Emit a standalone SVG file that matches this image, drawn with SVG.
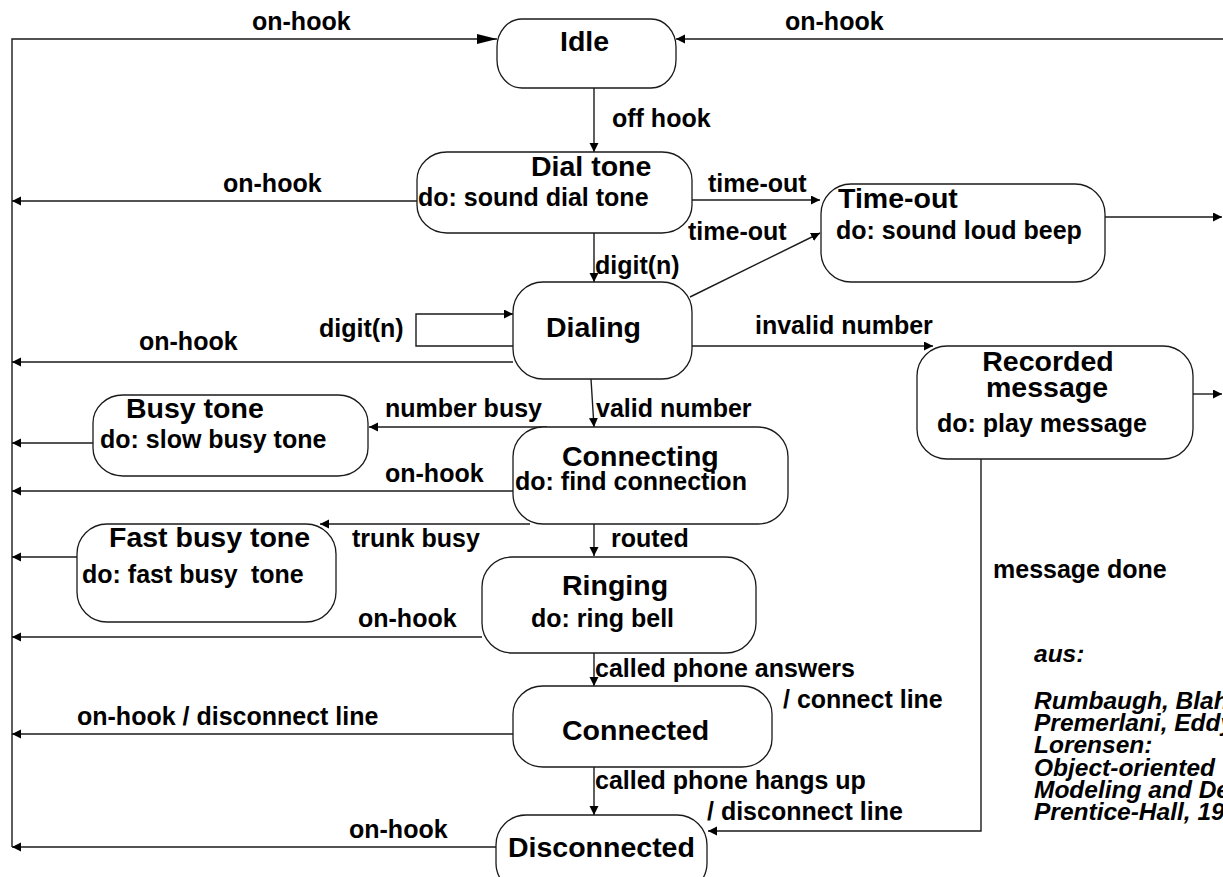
<svg xmlns="http://www.w3.org/2000/svg" width="1223" height="877" viewBox="0 0 1223 877">
<style>
  .bg { fill: #ffffff; }
  .conn { fill: none; stroke: #1a1a1a; stroke-width: 1.4; }
  .node rect { fill: #ffffff; stroke: #1a1a1a; stroke-width: 1.3; }
  text { font-family: "Liberation Sans", Arial, sans-serif; font-weight: bold; fill: #000000; }
  .lbl { font-size: 25px; }
  .title { font-size: 28.5px; }
  .cite { font-size: 24.5px; font-style: italic; }
</style>
<defs>
  <marker id="arr" markerUnits="userSpaceOnUse" markerWidth="10" markerHeight="10" refX="9" refY="4.5" orient="auto">
    <path d="M0,0 L9,4.5 L0,9 z" fill="#000"/>
  </marker>
  <marker id="arrBig" markerUnits="userSpaceOnUse" markerWidth="21" markerHeight="11" refX="20" refY="5" orient="auto">
    <path d="M0,0 L20,5 L0,10 z" fill="#000"/>
  </marker>
</defs>
<rect class="bg" x="0" y="0" width="1223" height="877"/>

<g id="connectors">
  <path class="conn" d="M12,847 V39 H497" marker-end="url(#arrBig)"/>
  <path class="conn" d="M1223,39 H676" marker-end="url(#arr)"/>
  <path class="conn" d="M594,88 V152" marker-end="url(#arr)"/>
  <path class="conn" d="M417,201 H12" marker-end="url(#arr)"/>
  <path class="conn" d="M692,200 H820" marker-end="url(#arr)"/>
  <path class="conn" d="M690,297 L820,233" marker-end="url(#arr)"/>
  <path class="conn" d="M594,233 V282" marker-end="url(#arr)"/>
  <path class="conn" d="M513,346 H416 V314 H513" marker-end="url(#arr)"/>
  <path class="conn" d="M513,362 H12" marker-end="url(#arr)"/>
  <path class="conn" d="M692,346 H933" marker-end="url(#arr)"/>
  <path class="conn" d="M1105,217 H1222" marker-end="url(#arr)"/>
  <path class="conn" d="M1193,394 H1222" marker-end="url(#arr)"/>
  <path class="conn" d="M591,379 L594,427" marker-end="url(#arr)"/>
  <path class="conn" d="M547,427 H369" marker-end="url(#arr)"/>
  <path class="conn" d="M93,443 H12" marker-end="url(#arr)"/>
  <path class="conn" d="M513,491 H12" marker-end="url(#arr)"/>
  <path class="conn" d="M530,524 H320" marker-end="url(#arr)"/>
  <path class="conn" d="M77,557 H12" marker-end="url(#arr)"/>
  <path class="conn" d="M594,524 V556" marker-end="url(#arr)"/>
  <path class="conn" d="M482,637 H12" marker-end="url(#arr)"/>
  <path class="conn" d="M594,653 V686" marker-end="url(#arr)"/>
  <path class="conn" d="M513,734 H12" marker-end="url(#arr)"/>
  <path class="conn" d="M594,767 V815" marker-end="url(#arr)"/>
  <path class="conn" d="M496,847 H12" marker-end="url(#arr)"/>
  <path class="conn" d="M981,459 V831 H708" marker-end="url(#arr)"/>
</g>

<g id="node-idle" class="node">
  <rect x="497" y="19" width="179" height="69" rx="25" ry="28"/>
  <text class="title" x="560" y="51">Idle</text>
</g>
<g id="node-dialtone" class="node">
  <rect x="417" y="152" width="275" height="81" rx="30" ry="28"/>
  <text class="title" x="531" y="176">Dial tone</text>
  <text class="lbl" x="418" y="206">do: sound dial tone</text>
</g>
<g id="node-timeout" class="node">
  <rect x="821" y="184" width="284" height="98" rx="30" ry="30"/>
  <text class="title" x="838" y="208">Time-out</text>
  <text class="lbl" x="836" y="239">do: sound loud beep</text>
</g>
<g id="node-dialing" class="node">
  <rect x="513" y="282" width="179" height="97" rx="30" ry="30"/>
  <text class="title" x="546" y="337">Dialing</text>
</g>
<g id="node-recorded" class="node">
  <rect x="917" y="346" width="276" height="113" rx="30" ry="30"/>
  <text class="title" x="1048" y="371" text-anchor="middle">Recorded</text>
  <text class="title" x="1047" y="397" text-anchor="middle">message</text>
  <text class="lbl" x="937" y="432">do: play message</text>
</g>
<g id="node-busytone" class="node">
  <rect x="93" y="395" width="275" height="81" rx="30" ry="28"/>
  <text class="title" x="126" y="418">Busy tone</text>
  <text class="lbl" x="100" y="448">do: slow busy tone</text>
</g>
<g id="node-connecting" class="node">
  <rect x="513" y="427" width="275" height="97" rx="30" ry="30"/>
  <text class="title" x="562" y="466">Connecting</text>
  <text class="lbl" x="515" y="490">do: find connection</text>
</g>
<g id="node-fastbusy" class="node">
  <rect x="77" y="524" width="259" height="98" rx="30" ry="30"/>
  <text class="title" x="109" y="547">Fast busy tone</text>
  <text class="lbl" x="82" y="583">do: fast busy</text>
  <text class="lbl" x="251" y="583">tone</text>
</g>
<g id="node-ringing" class="node">
  <rect x="482" y="557" width="274" height="96" rx="30" ry="30"/>
  <text class="title" x="562" y="595">Ringing</text>
  <text class="lbl" x="531" y="627">do: ring bell</text>
</g>
<g id="node-connected" class="node">
  <rect x="513" y="686" width="259" height="81" rx="30" ry="28"/>
  <text class="title" x="562" y="740">Connected</text>
</g>
<g id="node-disconnected" class="node">
  <rect x="496" y="815" width="211" height="78" rx="30" ry="30"/>
  <text class="title" x="508" y="857">Disconnected</text>
</g>

<g id="labels">
  <text class="lbl" x="252" y="30">on-hook</text>
  <text class="lbl" x="785" y="30">on-hook</text>
  <text class="lbl" x="612" y="127">off hook</text>
  <text class="lbl" x="223" y="192">on-hook</text>
  <text class="lbl" x="708" y="192">time-out</text>
  <text class="lbl" x="688" y="240">time-out</text>
  <text class="lbl" x="595" y="274">digit(n)</text>
  <text class="lbl" x="319" y="337">digit(n)</text>
  <text class="lbl" x="139" y="350">on-hook</text>
  <text class="lbl" x="755" y="334">invalid number</text>
  <text class="lbl" x="385" y="417">number busy</text>
  <text class="lbl" x="596" y="417">valid number</text>
  <text class="lbl" x="385" y="482">on-hook</text>
  <text class="lbl" x="352" y="547">trunk busy</text>
  <text class="lbl" x="611" y="547">routed</text>
  <text class="lbl" x="993" y="578">message done</text>
  <text class="lbl" x="358" y="627">on-hook</text>
  <text class="lbl" x="595" y="677">called phone answers</text>
  <text class="lbl" x="783" y="708">/ connect line</text>
  <text class="lbl" x="77" y="725">on-hook / disconnect line</text>
  <text class="lbl" x="595" y="789">called phone hangs up</text>
  <text class="lbl" x="707" y="820">/ disconnect line</text>
  <text class="lbl" x="349" y="838">on-hook</text>
</g>

<g id="citation">
  <text class="cite" x="1034" y="662">aus:</text>
  <text class="cite" x="1034" y="709">Rumbaugh, Blaha,</text>
  <text class="cite" x="1034" y="731">Premerlani, Eddy,</text>
  <text class="cite" x="1034" y="753">Lorensen:</text>
  <text class="cite" x="1034" y="776">Object-oriented</text>
  <text class="cite" x="1034" y="798">Modeling and Design</text>
  <text class="cite" x="1034" y="820">Prentice-Hall, 1991</text>
</g>
</svg>
